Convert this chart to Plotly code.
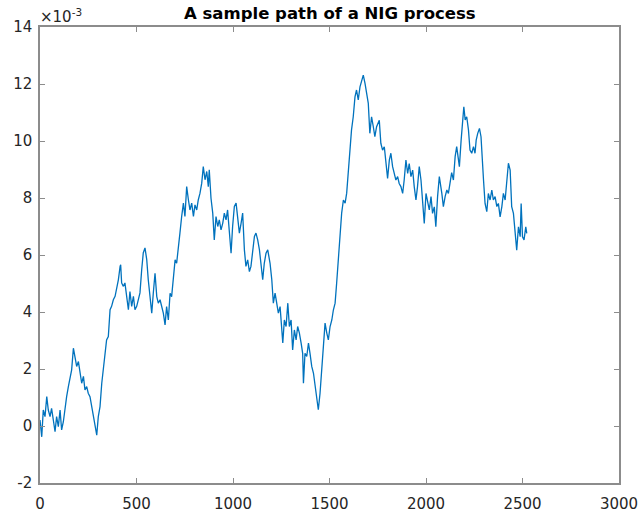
import plotly.graph_objects as go

# Sample path of a NIG process (values in units of 1e-3)
steps = [
    0, 9, 17, 26, 35, 43, 52, 60, 69, 78, 86, 95, 104, 112, 121, 130, 138, 147, 155, 164,
    173, 181, 190, 199, 207, 216, 225, 233, 242, 250, 259, 268, 276, 285, 294, 302, 311, 320,
    328, 337, 345, 354, 363, 371, 380, 389, 397, 406, 415, 418, 423, 432, 440, 449, 458, 466,
    475, 484, 492, 501, 510, 518, 527, 535, 544, 553, 561,
    579, 587, 596, 605, 613, 622, 630, 639, 648, 656, 665, 674, 682, 691, 700, 708, 717, 725,
    734, 743, 751, 760, 769, 777, 786, 795, 803, 812, 820, 829, 838, 846, 855, 864, 872, 877,
    886, 895, 903, 912, 921, 929, 938, 947, 955, 964, 972, 981, 990, 998, 1007, 1016, 1024,
    1033, 1042, 1050, 1059, 1067, 1076, 1085, 1093, 1102, 1111, 1119, 1128, 1137, 1145, 1154,
    1162, 1171, 1180, 1188,
    1192, 1201, 1209, 1218, 1227, 1235, 1244, 1252, 1258, 1266, 1275, 1284, 1292, 1301, 1309,
    1318, 1327, 1335, 1344, 1353, 1361, 1365, 1373, 1382, 1391, 1399, 1408, 1417, 1425, 1434,
    1442, 1451, 1460, 1468, 1477, 1486, 1494, 1503, 1512, 1520, 1529, 1537, 1546, 1555, 1563,
    1572, 1581, 1589,
    1597, 1606, 1614, 1623, 1632, 1640, 1649, 1658, 1666, 1675, 1684, 1692, 1701, 1709, 1718,
    1727, 1735, 1744, 1753, 1758, 1766, 1775, 1784, 1792, 1801, 1810, 1818, 1827, 1836, 1844,
    1853, 1861, 1870, 1879, 1887, 1896, 1905, 1913, 1922, 1931, 1939, 1948, 1956, 1965, 1974,
    1982, 1991, 2000, 2008, 2017, 2026, 2034, 2043, 2051, 2060, 2069,
    2082, 2090, 2099, 2108, 2116, 2125, 2133, 2142, 2151, 2159, 2168, 2173, 2182, 2190, 2196,
    2203, 2211, 2220, 2228, 2237, 2246, 2254, 2260, 2268, 2277, 2285, 2294, 2298, 2306, 2315,
    2323, 2332, 2341, 2349, 2358, 2367, 2375, 2384, 2393, 2401, 2410, 2418, 2427, 2436, 2444,
    2453, 2462, 2470, 2479, 2488, 2493, 2500, 2508, 2517, 2522,
]

values = [
    0.21, -0.38, 0.56, 0.33, 1.03, 0.56, 0.33, 0.62, 0.21, -0.20, 0.33, -0.02, 0.56, -0.14,
    0.15, 0.68, 1.03, 1.38, 1.74, 1.97, 2.73, 2.44, 2.09, 2.26, 1.85, 1.50, 1.74, 1.27, 1.38,
    1.15, 1.03, 0.68, 0.33, 0.09, -0.32, 0.33, 0.68, 1.50, 1.97, 2.44, 3.02, 3.14, 4.08, 4.20,
    4.43, 4.55, 4.78, 5.13, 5.60, 5.66, 5.02, 4.90, 5.02, 4.43, 4.08, 4.72, 4.20, 4.55, 4.08,
    4.20, 4.43, 4.67, 5.49, 6.07, 6.25, 5.84, 5.13,
    3.96, 4.66, 5.36, 4.54, 4.31, 4.43, 4.19, 3.96, 3.55, 4.19, 3.72, 4.66, 4.54, 5.36, 5.83,
    5.71, 6.41, 6.77, 7.35, 7.82, 7.35, 8.40, 7.93, 7.58, 7.82, 7.35, 7.76, 7.58, 7.93, 8.17,
    8.52, 9.10, 8.64, 8.93, 8.40, 8.99, 7.99, 7.47, 6.53, 7.35, 7.00, 7.23, 6.88, 7.12, 7.47,
    7.23, 7.58, 6.77, 6.06, 7.00, 7.70, 7.82, 7.35, 6.77, 7.12, 7.47, 6.18, 5.60, 5.83, 5.42,
    5.60, 6.18, 6.65, 6.77, 6.53, 6.18, 5.60, 5.13, 5.71, 6.06, 6.18, 5.83,
    5.71, 5.13, 4.31, 4.66, 4.19, 3.96, 4.19, 3.26, 2.91, 3.72, 3.49, 4.31, 3.49, 3.72, 2.67,
    3.37, 3.02, 3.49, 3.26, 2.91, 2.55, 1.50, 2.55, 2.44, 2.91, 2.55, 2.09, 1.85, 1.39, 1.03,
    0.57, 1.15, 2.09, 3.02, 3.61, 3.26, 3.02, 3.49, 3.72, 4.07, 4.31, 5.01, 5.83, 6.65, 7.47,
    7.93, 7.82, 8.17,
    8.86, 9.80, 10.38, 10.85, 11.55, 11.79, 11.44, 11.90, 12.14, 12.31, 12.02, 11.67, 11.32,
    10.27, 10.85, 10.50, 10.15, 10.50, 10.62, 10.73, 9.92, 9.68, 9.80, 9.21, 8.69, 9.33, 9.57,
    9.10, 8.86, 8.63, 8.75, 8.51, 8.40, 8.16, 8.63, 9.33, 8.86, 9.21, 8.75, 8.98, 8.40, 7.93,
    8.40, 9.10, 8.63, 7.93, 7.11, 8.16, 7.93, 7.58, 8.05, 7.46, 7.69, 6.99, 8.05, 8.75,
    8.16, 7.70, 8.05, 8.28, 8.16, 8.51, 8.89, 8.63, 9.45, 9.80, 9.45, 9.10, 10.03, 10.74,
    11.20, 10.74, 10.85, 10.39, 9.68, 9.57, 9.80, 9.57, 10.03, 10.27, 10.44, 10.15, 9.33,
    8.63, 7.81, 7.52, 8.16, 7.93, 8.28, 7.93, 8.05, 7.70, 7.81, 7.34, 7.70, 8.16, 7.93, 8.63,
    9.22, 8.98, 7.70, 7.46, 6.64, 6.17, 6.99, 6.64, 7.81, 6.64, 6.53, 6.99, 6.76,
]

x_ticks = [0, 500, 1000, 1500, 2000, 2500, 3000]
x_tick_labels = ["0", "500", "1000", "1500", "2000", "2500", "3000"]
y_ticks = [-2, 0, 2, 4, 6, 8, 10, 12, 14]
y_tick_labels = ["-2", "0", "2", "4", "6", "8", "10", "12", "14"]

title_text = "A sample path of a NIG process"
exponent_text = "×10<sup>-3</sup>"

axis_grey = "#8c8c8c"
label_color = "#262626"
font_family = "DejaVu Sans, Arial, sans-serif"

fig = go.Figure()
fig.add_trace(go.Scatter(
    x=steps, y=values, mode="lines",
    line=dict(color="#0072BD", width=1.3),
    showlegend=False, hoverinfo="skip",
))

axis_common = dict(
    showgrid=False, zeroline=False, automargin=False,
    showline=True, linecolor=axis_grey, linewidth=1.5,
    mirror="ticks", ticks="inside", ticklen=5, tickwidth=1, tickcolor=axis_grey,
    tickfont=dict(family=font_family, size=15, color=label_color),
)

fig.update_layout(
    width=640, height=518,
    margin=dict(l=40, r=21, t=27, b=35),
    paper_bgcolor="white", plot_bgcolor="white",
    xaxis=dict(range=[0, 3000], tickvals=x_ticks, ticktext=x_tick_labels,
               ticklabelstandoff=6, **axis_common),
    yaxis=dict(range=[-2, 14], tickvals=y_ticks, ticktext=y_tick_labels,
               ticklabelstandoff=3, **axis_common),
    annotations=[
        dict(text="<b>" + title_text + "</b>", xref="paper", yref="paper",
             x=0.5, y=1, yshift=2, xanchor="center", yanchor="bottom", showarrow=False,
             font=dict(family=font_family, size=16.5, color="black")),
        dict(text=exponent_text, xref="paper", yref="paper",
             x=0, y=1, xshift=-2, yshift=-1, xanchor="left", yanchor="bottom", showarrow=False,
             font=dict(family=font_family, size=15, color=label_color)),
    ],
)

fig.write_html("out.html")
